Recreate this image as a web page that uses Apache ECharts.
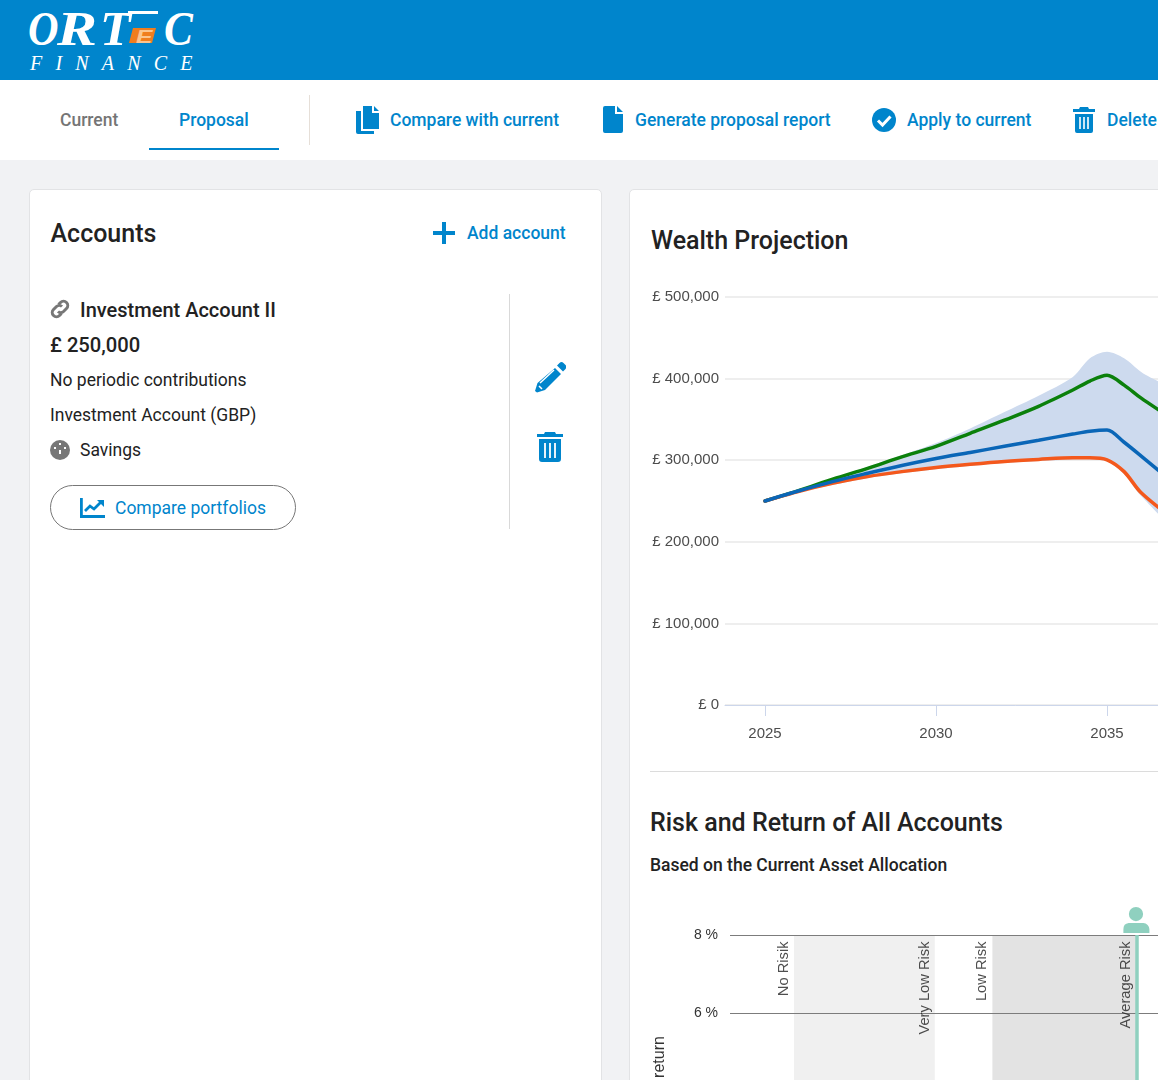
<!DOCTYPE html>
<html>
<head>
<meta charset="utf-8">
<title>Wealth Projection</title>
<script src="https://cdn.jsdelivr.net/npm/echarts@6/dist/echarts.min.js"></script>
<style>
  html, body { margin: 0; padding: 0; width: 1158px; height: 1080px; overflow: hidden; background: #f1f2f4; font-family: Roboto, sans-serif; color: #222; }
  .abs { position: absolute; white-space: nowrap; line-height: 1; }
  .blue { color: #0085cc; }
  .med { font-weight: 500; }
  .logo { position: absolute; top: 5px; font: italic bold 48px 'Liberation Serif', serif; color: #fff; line-height: 1; transform-origin: left center; }
  #header { position: absolute; left: 0; top: 0; width: 1158px; height: 80px; background: #0085cc; }
  #toolbar { position: absolute; left: 0; top: 80px; width: 1158px; height: 80px; background: #fff; }
  #toolbar .t { top: 32px; font-size: 17.500px; }
  .card { position: absolute; top: 189px; height: 1000px; background: #fff; border: 1px solid #e2e3e5; border-radius: 5px; box-sizing: border-box; }
  .chart-box { position: absolute; }
  svg { position: absolute; }
</style>
</head>
<body>
<div id="header">
  <div class="logo" style="left:28px;transform:scaleX(.88)">O</div>
  <div class="logo" style="left:57px;transform:scaleX(1.25)">R</div>
  <div class="logo" style="left:100px;transform:scaleX(1.05)">T</div>
  <div class="abs" style="left:128px;top:11px;width:30px;height:2.500px;background:#fff"></div>
  <svg style="left:129px;top:27px" width="27" height="17" viewBox="0 0 27 17"><path fill="#f07d1e" d="M4 1h23l-4 15H0z"/></svg>
  <div class="abs" style="left:136px;top:26px;font:italic bold 19px 'Liberation Sans',sans-serif;color:#fbc48e;transform:scaleX(1.3);transform-origin:left center">E</div>
  <div class="logo" style="left:164px;transform:scaleX(.9)">C</div>
  <div class="abs" style="left:30px;top:52px;font:italic 20px 'Liberation Serif',serif;color:#fff;letter-spacing:13.200px">FINANCE</div>
</div>
<div id="toolbar">
  <div class="abs med t" style="left:60px;color:#757575">Current</div>
  <div class="abs med t blue" style="left:179px">Proposal</div>
  <div class="abs" style="left:149px;top:67.500px;width:130px;height:2.500px;background:#0085cc"></div>
  <div class="abs" style="left:309px;top:15px;width:1px;height:50px;background:#e6dfd8"></div>

  <svg style="left:356px;top:26px" width="24" height="28" viewBox="0 0 24 28"><path fill="#0085cc" d="M7 0h9v7h7v16H7z M18 0l5 5h-5z M0 5h5v20h13v3H2a2 2 0 0 1-2-2z"/></svg>
  <div class="abs med t blue" style="left:390px">Compare with current</div>

  <svg style="left:603px;top:26px" width="20" height="27" viewBox="0 0 20 27"><path fill="#0085cc" d="M2 0h10v8h8v17a2 2 0 0 1-2 2H2a2 2 0 0 1-2-2V2a2 2 0 0 1 2-2z M14 0l6 6h-6z"/></svg>
  <div class="abs med t blue" style="left:635px">Generate proposal report</div>

  <svg style="left:872px;top:28px" width="24" height="24" viewBox="0 0 24 24"><circle cx="12" cy="12" r="12" fill="#0085cc"/><path fill="none" stroke="#fff" stroke-width="3" d="M6 12.500l4.500 4.500 8-8.500"/></svg>
  <div class="abs med t blue" style="left:907px">Apply to current</div>

  <svg style="left:1073px;top:27px" width="22" height="26" viewBox="0 0 22 26"><path fill="#0085cc" d="M7 0h8l1 2h6v3H0V2h6z M2 7h18v17a2 2 0 0 1-2 2H4a2 2 0 0 1-2-2z"/><path stroke="#fff" stroke-width="1.600" d="M7 10v12M11 10v12M15 10v12"/></svg>
  <div class="abs med t blue" style="left:1107px">Delete</div>
</div>

<div class="card" style="left:29px;width:573px"></div>
<div class="card" style="left:629px;width:700px"></div>

<div class="abs med" style="left:50.500px;top:221px;font-size:25px">Accounts</div>
<svg style="left:433px;top:222px" width="22" height="22" viewBox="0 0 22 22"><path fill="#0085cc" d="M9 0h4v9h9v4h-9v9H9v-9H0V9h9z"/></svg>
<div class="abs med blue" style="left:467px;top:224.500px;font-size:17.500px">Add account</div>

<svg style="left:50px;top:299px" width="20" height="20" viewBox="0 0 20 20"><g fill="none" stroke="#777" stroke-width="3"><path d="M8.500 5.500l2-2a4 4 0 0 1 6 6l-3 3a4 4 0 0 1-5.500 0"/><path d="M11.500 14.500l-2 2a4 4 0 0 1-6-6l3-3a4 4 0 0 1 5.500 0"/></g></svg>
<div class="abs med" style="left:80px;top:299.500px;font-size:20px">Investment Account II</div>
<div class="abs med" style="left:50px;top:334.500px;font-size:20.200px">£ 250,000</div>
<div class="abs" style="left:50px;top:371.500px;font-size:17.500px">No periodic contributions</div>
<div class="abs" style="left:50px;top:406.500px;font-size:17.500px">Investment Account (GBP)</div>
<svg style="left:50px;top:440px" width="20" height="20" viewBox="0 0 20 20"><circle cx="10" cy="10" r="10" fill="#777"/><path stroke="#fff" stroke-width="2" d="M10 10V14M10 3v2M4 8h2M14 8h2"/></svg>
<div class="abs" style="left:80px;top:441.500px;font-size:17.500px">Savings</div>
<div class="abs" style="left:50px;top:485px;width:246px;height:44.500px;border:1px solid #777;border-radius:23px;box-sizing:border-box"></div>
<svg style="left:80px;top:498px" width="25" height="20" viewBox="0 0 25 20"><path fill="none" stroke="#0085cc" stroke-width="2.800" d="M1.400 0v18.500H25"/><path fill="none" stroke="#0085cc" stroke-width="2.800" d="M5 13l5-5 4 3 7-7"/><path fill="#0085cc" d="M17 2h7v7z"/></svg>
<div class="abs blue" style="left:115px;top:499.500px;font-size:17.500px">Compare portfolios</div>
<div class="abs" style="left:509px;top:294px;width:1px;height:235px;background:#d9d9d9"></div>
<svg style="left:535px;top:362px" width="31" height="31" viewBox="0 0 31 31"><path fill="#0085cc" d="M20 6l6 6L10 28l-8 2.500L0 29l2.500-8z M22 3.500l2.500-2.500a3 3 0 0 1 4 0l2 2a3 3 0 0 1 0 4L28 9.500z"/><path stroke="#fff" stroke-width="1.500" d="M5 21L19 8M4 24l3 3"/></svg>
<svg style="left:537px;top:432px" width="26" height="30" viewBox="0 0 26 30"><path fill="#0085cc" d="M8 0h10l1 2h7v3H0V2h7z M2 7h22v20a3 3 0 0 1-3 3H5a3 3 0 0 1-3-3z"/><path stroke="#fff" stroke-width="1.800" d="M8 11v15M13 11v15M18 11v15"/></svg>

<div class="abs med" style="left:651px;top:228px;font-size:25px">Wealth Projection</div>
<div class="chart-box" id="wealthChart" style="left:640px;top:280px;width:700px;height:480px"></div>
<div class="abs" style="left:650px;top:771px;width:508px;height:1px;background:#dcdcdc"></div>
<div class="abs med" style="left:650px;top:810px;font-size:25px">Risk and Return of All Accounts</div>
<div class="abs med" style="left:650px;top:857px;font-size:17.500px">Based on the Current Asset Allocation</div>
<div class="chart-box" id="riskChart" style="left:640px;top:890px;width:700px;height:320px"></div>

<script>
// wealth projection values
var years    = [2025,2026,2027,2028,2029,2030,2031,2032,2033,2034,2034.5,2035,2035.5,2036,2037];
var upper    = [250000,263500,278000,292000,306000,321000,339000,359000,379000,402000,425000,433000,425000,408000,378000];
var green    = [250000,263000,277000,290000,304000,317000,333000,349000,366000,386000,397000,404000,392000,376000,348000];
var blue     = [250000,262500,274000,284000,293500,302000,309500,317000,324500,332000,335500,337000,322000,305000,270000];
var orange   = [250000,262000,272000,280000,286000,291000,295000,298500,301000,303000,303000,300500,286000,260000,226000];
var lower    = [250000,261000,270000,278000,284000,289000,293000,296500,299000,301000,301000,298500,283000,256000,221000];
var xTicks   = [2025,2030,2035,2040];

// risk and return
var riskLevels = ['No Risik','Very Low Risk','Low Risk','Average Risk'];
var riskValues = [2,6.4,8.2,12.7];
var riskPoint  = 12.7;
var returnTop  = 8;

function pairs(ys) {
  return ys.map(function(v, i) { return [years[i], v]; });
}
function lineSeries(name, ys, color) {
  return {
    name: name,
    type: 'line',
    data: pairs(ys),
    smooth: 0.3,
    showSymbol: false,
    lineStyle: { color: color, width: 3.5, cap: 'round' },
    silent: true,
    z: 3
  };
}
// the band between upper and lower, one closed shape through both edges
function renderBand(params, api) {
  if (params.dataIndex !== 0) return null;
  var pts = [];
  years.forEach(function(y, i) { pts.push(api.coord([y, upper[i]])); });
  for (var i = years.length - 1; i >= 0; i--) pts.push(api.coord([years[i], lower[i]]));
  return {
    type: 'polygon',
    shape: { points: pts, smooth: 0.3 },
    style: { fill: '#cddaee' },
    silent: true
  };
}

var wealthChart = echarts.init(document.getElementById('wealthChart'));
wealthChart.setOption({
  animation: false,
  textStyle: { fontFamily: 'Liberation Sans' },
  grid: { left: 85, top: 17, width: 581.4, height: 408 },
  xAxis: {
    type: 'value',
    min: 2023.83,
    max: 2040.83,
    splitLine: { show: false },
    axisLine: { lineStyle: { color: '#ccd6eb', width: 1 } },
    axisTick: { length: 11, lineStyle: { color: '#ccd6eb' }, customValues: xTicks },
    axisLabel: { color: '#4d4d4d', fontSize: 15, margin: 21, customValues: xTicks, formatter: function(v) { return String(v); } }
  },
  yAxis: {
    type: 'value',
    min: 0,
    max: 500000,
    interval: 100000,
    axisLine: { show: false },
    axisTick: { show: false },
    splitLine: { lineStyle: { color: '#e9e9e9', width: 1.5 } },
    axisLabel: {
      color: '#4d4d4d',
      fontSize: 15,
      margin: 6,
      padding: [4, 0, 0, 0],
      formatter: function(v) { return '£ ' + v.toLocaleString('en-GB'); }
    }
  },
  series: [
    {
      name: 'Band',
      type: 'custom',
      coordinateSystem: 'cartesian2d',
      data: pairs(upper),
      renderItem: renderBand,
      clip: false,
      silent: true,
      z: 2
    },
    lineSeries('Green', green, '#0b800b'),
    lineSeries('Orange', orange, '#f4581c'),
    lineSeries('Blue', blue, '#0a66b7')
  ]
});

var personIcon = 'path://M12 0a6.800 6.800 0 1 1 0 13.600A6.800 6.800 0 0 1 12 0z M5 15.500h14a5.800 5.800 0 0 1 5.800 5.800V25H0v-3.700a5.800 5.800 0 0 1 5-5.800z';

var riskChart = echarts.init(document.getElementById('riskChart'));
riskChart.setOption({
  animation: false,
  textStyle: { fontFamily: 'Liberation Sans' },
  grid: { left: 90, top: 45, width: 600, height: 234 },
  xAxis: {
    type: 'value',
    min: 0,
    max: 18.75,
    show: false
  },
  yAxis: {
    type: 'value',
    min: 2,
    max: returnTop,
    interval: 2,
    z: 3,
    name: 'return',
    nameLocation: 'middle',
    nameGap: 62,
    nameTextStyle: { color: '#333', fontSize: 16, padding: [0, 10, 0, 0] },
    axisLine: { show: false },
    axisTick: { show: false },
    splitLine: { lineStyle: { color: '#7c7c7c', width: 1.2 } },
    axisLabel: { color: '#333', fontSize: 14, margin: 12, padding: [2, 0, 0, 0], formatter: '{value} %' }
  },
  series: [
    {
      name: 'Risk bands',
      type: 'line',
      data: [],
      silent: true,
      markArea: {
        silent: true,
        data: [
          [{ xAxis: riskValues[0], itemStyle: { color: '#f0f0f0' } }, { xAxis: riskValues[1] }],
          [{ xAxis: riskValues[2], itemStyle: { color: '#e3e3e3' } }, { xAxis: riskValues[3] }]
        ]
      },
      z: 1
    },
    {
      name: 'Risk levels',
      type: 'scatter',
      data: riskLevels.map(function(n, i) { return { name: n, value: [riskValues[i], returnTop] }; }),
      symbolSize: 1,
      itemStyle: { color: 'transparent' },
      silent: true,
      label: {
        show: true,
        formatter: '{b}',
        rotate: 90,
        position: [-2, 7],
        align: 'right',
        verticalAlign: 'bottom',
        color: '#222',
        fontSize: 14.7
      },
      z: 4
    },
    {
      name: 'Client',
      type: 'scatter',
      data: [[riskPoint, returnTop]],
      symbol: personIcon,
      symbolSize: [26, 26],
      symbolOffset: [0, -15],
      itemStyle: { color: '#8fd0bf', opacity: 1 },
      silent: true,
      markLine: {
        silent: true,
        symbol: 'none',
        label: { show: false },
        lineStyle: { color: '#8fd0bf', width: 3.5, type: 'solid' },
        data: [{ xAxis: riskPoint }]
      },
      z: 5
    }
  ]
});
</script>
</body>
</html>
